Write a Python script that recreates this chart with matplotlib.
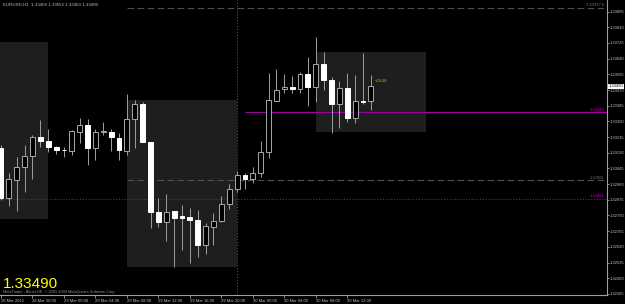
import matplotlib
matplotlib.use("Agg")
import matplotlib.pyplot as plt
from matplotlib.patches import Rectangle
import pandas as pd

# ---------------- data ----------------
title_text = "EURUSD,H1  1.33409 1.33552 1.33363 1.33490"
start_time = "2012-03-28 16:00"

opens = [1.33156, 1.32885, 1.32982, 1.33053, 1.33113, 1.33215, 1.33194, 1.33161,
         1.33147, 1.33140, 1.33243, 1.33281, 1.33156, 1.33243, 1.33243, 1.33210,
         1.33140, 1.33313, 1.33394, 1.33188, 1.32809, 1.32755, 1.32814, 1.32787,
         1.32782, 1.32766, 1.32630, 1.32728, 1.32760, 1.32852, 1.32934, 1.33010,
         1.32988, 1.33021, 1.33134, 1.33411, 1.33476, 1.33486, 1.33476, 1.33557,
         1.33486, 1.33611, 1.33524, 1.33394, 1.33481, 1.33318, 1.33411, 1.33409]
highs = [1.33172, 1.33021, 1.33107, 1.33172, 1.33226, 1.33308, 1.33259, 1.33167,
         1.33161, 1.33253, 1.33318, 1.33313, 1.33259, 1.33297, 1.33259, 1.33237,
         1.33449, 1.33416, 1.33405, 1.33188, 1.32885, 1.32907, 1.32814, 1.32847,
         1.32831, 1.32820, 1.32749, 1.32803, 1.32896, 1.32961, 1.33031, 1.33021,
         1.33053, 1.33194, 1.33562, 1.33584, 1.33557, 1.33546, 1.33568, 1.33649,
         1.33758, 1.33676, 1.33541, 1.33519, 1.33562, 1.33552, 1.33671, 1.33552]
lows = [1.32874, 1.32841, 1.32814, 1.32917, 1.32988, 1.33161, 1.33134, 1.33123,
        1.33107, 1.33118, 1.33183, 1.33065, 1.33091, 1.33226, 1.33140, 1.33091,
        1.33118, 1.33156, 1.33188, 1.32722, 1.32728, 1.32652, 1.32511, 1.32603,
        1.32533, 1.32565, 1.32581, 1.32630, 1.32755, 1.32825, 1.32917, 1.32934,
        1.32966, 1.32999, 1.33102, 1.33411, 1.33454, 1.33454, 1.33454, 1.33383,
        1.33405, 1.33470, 1.33237, 1.33264, 1.33297, 1.33291, 1.33394, 1.33363]
closes = [1.32885, 1.32988, 1.33053, 1.33113, 1.33215, 1.33194, 1.33161, 1.33145,
          1.33145, 1.33248, 1.33281, 1.33156, 1.33243, 1.33245, 1.33215, 1.33145,
          1.33313, 1.33394, 1.33188, 1.32809, 1.32755, 1.32809, 1.32776, 1.32776,
          1.32766, 1.32630, 1.32733, 1.32760, 1.32852, 1.32934, 1.33010, 1.32988,
          1.33021, 1.33134, 1.33416, 1.33470, 1.33486, 1.33476, 1.33557, 1.33486,
          1.33611, 1.33524, 1.33394, 1.33481, 1.33318, 1.33411, 1.33405, 1.33490]

price_ticks = [1.33895, 1.33810, 1.33725, 1.33640, 1.33555, 1.33470, 1.33385,
               1.33300, 1.33215, 1.33130, 1.33045, 1.32960, 1.32875, 1.32790,
               1.32705, 1.32620, 1.32535, 1.32450, 1.32365]
time_tick_bars = [0, 4, 8, 12, 16, 20, 24, 28, 32, 36, 40, 44]

# session boxes (bar index range, price range)
box_start = [-8, 16, 40]
box_end = [6, 30, 54]
box_high = [1.33730, 1.33416, 1.33676]
box_low = [1.32771, 1.32511, 1.33243]

# horizontal levels
level_price = [1.33917, 1.33349, 1.32981, 1.32881]
level_label = ["1.33917 E", "1.33349", "1.32981", "1.32881"]
level_start = [16, 31, 16, -1]
level_color = ["#505050", "#a000a0", "#505050", "#a000a0"]
level_style = [(0, (6, 3)), "-", (0, (6, 3)), (0, (1, 1.5))]
level_text_color = ["#707070", "#c000c0", "#707070", "#c000c0"]

separator_bar = 30
last_price = 1.33490
countdown_text = "<24:38"
copyright_text = "MetaTrader - Alpari UK, \u00a9 2001-2009 MetaQuotes Software Corp."

# ---------------- figure ----------------
W, H = 625, 304
fig = plt.figure(figsize=(W / 100, H / 100), dpi=100, facecolor="black")
ax_right_px, ax_bottom_px = 607, 295
ax = fig.add_axes([0, (H - ax_bottom_px) / H, ax_right_px / W, ax_bottom_px / H])
ax.set_facecolor("black")

bar_px = 7.87
x0 = -1.0 / bar_px
ax.set_xlim(x0, x0 + ax_right_px / bar_px)
ax.set_ylim(1.32359, 1.33958)

font = ["Liberation Sans", "DejaVu Sans"]
axis_gray = "#a0a0a0"
txt_gray = "#c0c0c0"
small = 3.0

# session boxes
for s, e, hi, lo in zip(box_start, box_end, box_high, box_low):
    ax.add_patch(Rectangle((s, lo), e - s, hi - lo, facecolor="#1e1e1e",
                           edgecolor="none", zorder=1))

# separator
ax.axvline(separator_bar, color="#606060", lw=0.7, ls=(0, (1, 2)), zorder=2)

# levels
xr = ax.get_xlim()[1]
for p, lab, st, col, ls, tc in zip(level_price, level_label, level_start,
                                   level_color, level_style, level_text_color):
    ax.hlines(p, st, xr, colors=col, linestyles=ls, lw=0.8, zorder=2)
    ax.text(xr - 0.3, p + 0.00004, lab, color=tc, fontsize=small, family=font,
            ha="right", va="bottom", zorder=5)

# candles
w = 0.62
for i, (o, h, l, c) in enumerate(zip(opens, highs, lows, closes)):
    ax.vlines(i, l, h, colors="#a0a0a0", lw=0.7, zorder=3)
    bottom = min(o, c)
    height = max(abs(c - o), 0.000025)
    if c >= o:
        ax.add_patch(Rectangle((i - w / 2, bottom), w, height, facecolor="black",
                               edgecolor="#a8a8a8", lw=0.7, zorder=4))
    else:
        ax.add_patch(Rectangle((i - w / 2, bottom), w, height, facecolor="white",
                               edgecolor="white", lw=0.7, zorder=4))

# axes styling
for side in ["top", "left"]:
    ax.spines[side].set_visible(False)
for side in ["right", "bottom"]:
    ax.spines[side].set_color(axis_gray)
    ax.spines[side].set_linewidth(0.8)

ax.yaxis.tick_right()
ax.set_yticks(price_ticks)
ax.set_yticklabels([f"{v:.5f}" for v in price_ticks])
ax.tick_params(axis="y", direction="out", length=1.4, width=0.6, colors=axis_gray,
               labelsize=small, pad=0.6, labelcolor=txt_gray)
for t in ax.get_yticklabels():
    t.set_family(font)

times = pd.date_range(start_time, periods=len(opens), freq="h")
xlabels = []
for b in time_tick_bars:
    t = times[b]
    xlabels.append(t.strftime("%d %b %Y") if b == 0 else t.strftime("%d %b %H:%M"))
ax.set_xticks(time_tick_bars)
ax.set_xticklabels(xlabels)
ax.tick_params(axis="x", direction="out", length=2.5, width=0.6, colors=axis_gray,
               labelsize=small, pad=0.3, labelcolor=txt_gray)
for t in ax.get_xticklabels():
    t.set_family(font)
    t.set_ha("left")

# current price marker on the axis
ax.annotate(f"{last_price:.5f}", xy=(1.0, last_price), xycoords=("axes fraction", "data"),
            xytext=(1.0, 0), textcoords="offset points", fontsize=small, family=font,
            color="black", ha="left", va="center",
            bbox=dict(boxstyle="square,pad=0.15", facecolor="white", edgecolor="none"),
            annotation_clip=False, zorder=6)

# texts
fig.text(3 / W, 1 - 5 / H, title_text, color=txt_gray, fontsize=3.2, family=font,
         ha="left", va="center")
ax.text(len(opens) - 1 + 0.55, 1.33518, countdown_text, color="#b8b800", fontsize=small,
        family=font, ha="left", va="center", zorder=6)
fig.text(3 / W, 1 - 283.5 / H, f"{last_price:.5f}", color="#ffff00", fontsize=11,
         family=font, ha="left", va="center")
fig.text(3 / W, 1 - 291.5 / H, copyright_text, color="#909090", fontsize=2.8,
         family=font, ha="left", va="center")

fig.savefig("out.png", dpi=100, facecolor="black")
